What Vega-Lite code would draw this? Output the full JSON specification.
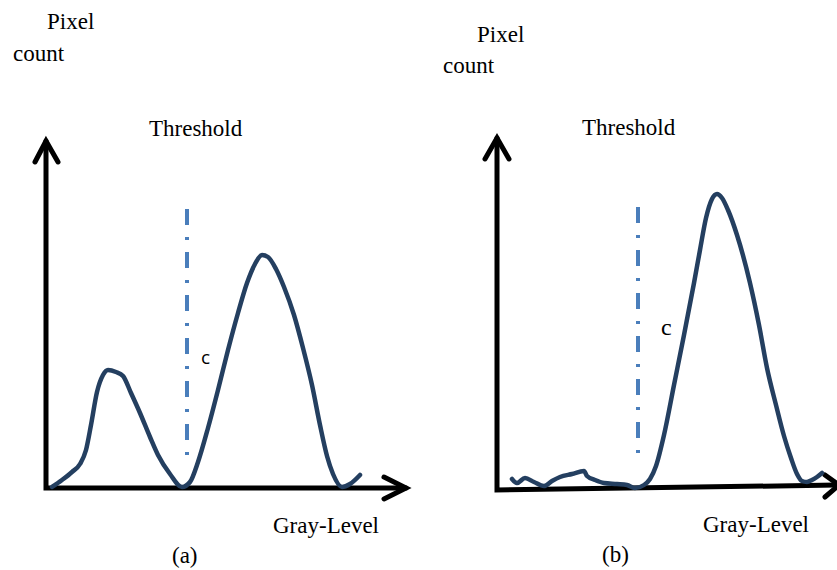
{
  "$schema": "https://vega.github.io/schema/vega-lite/v6.json",
  "autosize": {"type": "none"},
  "width": 837,
  "height": 570,
  "padding": 0,
  "background": "white",
  "config": {"view": {"stroke": null}},
  "datasets": {
    "axes": [
      {"seg": "a-yhead", "i": 0, "x": 35, "y": 162},
      {"seg": "a-yhead", "i": 1, "x": 46, "y": 141},
      {"seg": "a-yhead", "i": 2, "x": 58, "y": 162},
      {"seg": "a-shaft", "i": 0, "x": 46, "y": 141},
      {"seg": "a-shaft", "i": 1, "x": 46, "y": 488},
      {"seg": "a-shaft", "i": 2, "x": 406, "y": 488},
      {"seg": "a-xhead", "i": 0, "x": 384, "y": 477},
      {"seg": "a-xhead", "i": 1, "x": 406, "y": 488},
      {"seg": "a-xhead", "i": 2, "x": 384, "y": 499},
      {"seg": "b-yhead", "i": 0, "x": 485, "y": 159},
      {"seg": "b-yhead", "i": 1, "x": 497, "y": 138},
      {"seg": "b-yhead", "i": 2, "x": 509, "y": 159},
      {"seg": "b-shaft", "i": 0, "x": 497, "y": 138},
      {"seg": "b-shaft", "i": 1, "x": 497, "y": 490},
      {"seg": "b-shaft", "i": 2, "x": 839, "y": 485},
      {"seg": "b-xhead", "i": 0, "x": 825, "y": 475},
      {"seg": "b-xhead", "i": 1, "x": 839, "y": 485},
      {"seg": "b-xhead", "i": 2, "x": 825, "y": 497}
    ],
    "curves": [
      {"panel": "a", "x": 52, "y": 487}, {"panel": "a", "x": 62, "y": 480}, {"panel": "a", "x": 72, "y": 472},
      {"panel": "a", "x": 80, "y": 464}, {"panel": "a", "x": 86, "y": 450}, {"panel": "a", "x": 91, "y": 425},
      {"panel": "a", "x": 97, "y": 392}, {"panel": "a", "x": 103, "y": 375}, {"panel": "a", "x": 108, "y": 370},
      {"panel": "a", "x": 116, "y": 372}, {"panel": "a", "x": 123, "y": 376}, {"panel": "a", "x": 131, "y": 393},
      {"panel": "a", "x": 140, "y": 413}, {"panel": "a", "x": 150, "y": 437}, {"panel": "a", "x": 158, "y": 455},
      {"panel": "a", "x": 170, "y": 474}, {"panel": "a", "x": 182, "y": 487}, {"panel": "a", "x": 190, "y": 482},
      {"panel": "a", "x": 198, "y": 462}, {"panel": "a", "x": 208, "y": 428}, {"panel": "a", "x": 218, "y": 390},
      {"panel": "a", "x": 228, "y": 350}, {"panel": "a", "x": 238, "y": 313}, {"panel": "a", "x": 247, "y": 283},
      {"panel": "a", "x": 255, "y": 264}, {"panel": "a", "x": 262, "y": 255}, {"panel": "a", "x": 268, "y": 257},
      {"panel": "a", "x": 276, "y": 269}, {"panel": "a", "x": 284, "y": 287}, {"panel": "a", "x": 294, "y": 315},
      {"panel": "a", "x": 303, "y": 348}, {"panel": "a", "x": 312, "y": 385}, {"panel": "a", "x": 320, "y": 425},
      {"panel": "a", "x": 327, "y": 456}, {"panel": "a", "x": 333, "y": 474}, {"panel": "a", "x": 342, "y": 487},
      {"panel": "a", "x": 350, "y": 484}, {"panel": "a", "x": 360, "y": 475},
      {"panel": "b", "x": 512, "y": 479}, {"panel": "b", "x": 517, "y": 483}, {"panel": "b", "x": 525, "y": 478},
      {"panel": "b", "x": 534, "y": 482}, {"panel": "b", "x": 544, "y": 486}, {"panel": "b", "x": 552, "y": 481},
      {"panel": "b", "x": 560, "y": 477}, {"panel": "b", "x": 572, "y": 474}, {"panel": "b", "x": 584, "y": 471},
      {"panel": "b", "x": 587, "y": 476}, {"panel": "b", "x": 595, "y": 480}, {"panel": "b", "x": 604, "y": 483},
      {"panel": "b", "x": 617, "y": 484}, {"panel": "b", "x": 627, "y": 485}, {"panel": "b", "x": 635, "y": 488},
      {"panel": "b", "x": 644, "y": 485}, {"panel": "b", "x": 650, "y": 479}, {"panel": "b", "x": 656, "y": 466},
      {"panel": "b", "x": 664, "y": 435}, {"panel": "b", "x": 674, "y": 385}, {"panel": "b", "x": 684, "y": 335},
      {"panel": "b", "x": 694, "y": 283}, {"panel": "b", "x": 700, "y": 250}, {"panel": "b", "x": 706, "y": 218},
      {"panel": "b", "x": 712, "y": 199}, {"panel": "b", "x": 717, "y": 194}, {"panel": "b", "x": 722, "y": 198},
      {"panel": "b", "x": 728, "y": 210}, {"panel": "b", "x": 737, "y": 235}, {"panel": "b", "x": 750, "y": 283},
      {"panel": "b", "x": 759, "y": 325}, {"panel": "b", "x": 767, "y": 368}, {"panel": "b", "x": 776, "y": 405},
      {"panel": "b", "x": 784, "y": 436}, {"panel": "b", "x": 791, "y": 458}, {"panel": "b", "x": 797, "y": 474},
      {"panel": "b", "x": 802, "y": 481}, {"panel": "b", "x": 807, "y": 482}, {"panel": "b", "x": 812, "y": 480},
      {"panel": "b", "x": 817, "y": 477}, {"panel": "b", "x": 822, "y": 473}
    ],
    "thresholds": [
      {"panel": "a", "x": 187, "y": 209, "y2": 457},
      {"panel": "b", "x": 638, "y": 207, "y2": 454}
    ],
    "serifText": [
      {"x": 47, "y": 29, "label": "Pixel"},
      {"x": 13, "y": 61, "label": "count"},
      {"x": 149, "y": 136, "label": "Threshold"},
      {"x": 273, "y": 533, "label": "Gray-Level"},
      {"x": 172, "y": 563, "label": "(a)"},
      {"x": 477, "y": 42, "label": "Pixel"},
      {"x": 443, "y": 73, "label": "count"},
      {"x": 582, "y": 135, "label": "Threshold"},
      {"x": 703, "y": 532, "label": "Gray-Level"},
      {"x": 602, "y": 562, "label": "(b)"}
    ],
    "cSans": [{"x": 201, "y": 364, "label": "c"}],
    "cSerif": [{"x": 661, "y": 335, "label": "c"}]
  },
  "layer": [
    {
      "data": {"name": "axes"},
      "mark": {"type": "line", "color": "black", "strokeWidth": 5, "strokeCap": "round", "strokeJoin": "miter"},
      "encoding": {
        "x": {"field": "x", "type": "quantitative", "scale": {"domain": [0, 837], "zero": false, "nice": false}, "axis": null},
        "y": {"field": "y", "type": "quantitative", "scale": {"domain": [0, 570], "zero": false, "nice": false, "reverse": true}, "axis": null},
        "detail": {"field": "seg"},
        "order": {"field": "i", "type": "quantitative"}
      }
    },
    {
      "data": {"name": "thresholds"},
      "mark": {"type": "rule", "color": "#4a7ebb", "strokeWidth": 4, "strokeDash": [16, 12, 3, 12]},
      "encoding": {
        "x": {"field": "x", "type": "quantitative"},
        "y": {"field": "y", "type": "quantitative"},
        "y2": {"field": "y2"}
      }
    },
    {
      "data": {"name": "curves"},
      "mark": {"type": "line", "color": "#243f60", "strokeWidth": 4.5, "interpolate": "monotone", "strokeCap": "round"},
      "encoding": {
        "x": {"field": "x", "type": "quantitative"},
        "y": {"field": "y", "type": "quantitative"},
        "detail": {"field": "panel"}
      }
    },
    {
      "data": {"name": "serifText"},
      "mark": {"type": "text", "font": "Liberation Serif", "fontSize": 23, "align": "left", "baseline": "alphabetic", "color": "black"},
      "encoding": {
        "x": {"field": "x", "type": "quantitative"},
        "y": {"field": "y", "type": "quantitative"},
        "text": {"field": "label"}
      }
    },
    {
      "data": {"name": "cSans"},
      "mark": {"type": "text", "font": "Open Sans", "fontSize": 19, "align": "left", "baseline": "alphabetic", "color": "black"},
      "encoding": {
        "x": {"field": "x", "type": "quantitative"},
        "y": {"field": "y", "type": "quantitative"},
        "text": {"field": "label"}
      }
    },
    {
      "data": {"name": "cSerif"},
      "mark": {"type": "text", "font": "Liberation Serif", "fontSize": 24, "align": "left", "baseline": "alphabetic", "color": "black"},
      "encoding": {
        "x": {"field": "x", "type": "quantitative"},
        "y": {"field": "y", "type": "quantitative"},
        "text": {"field": "label"}
      }
    }
  ]
}
